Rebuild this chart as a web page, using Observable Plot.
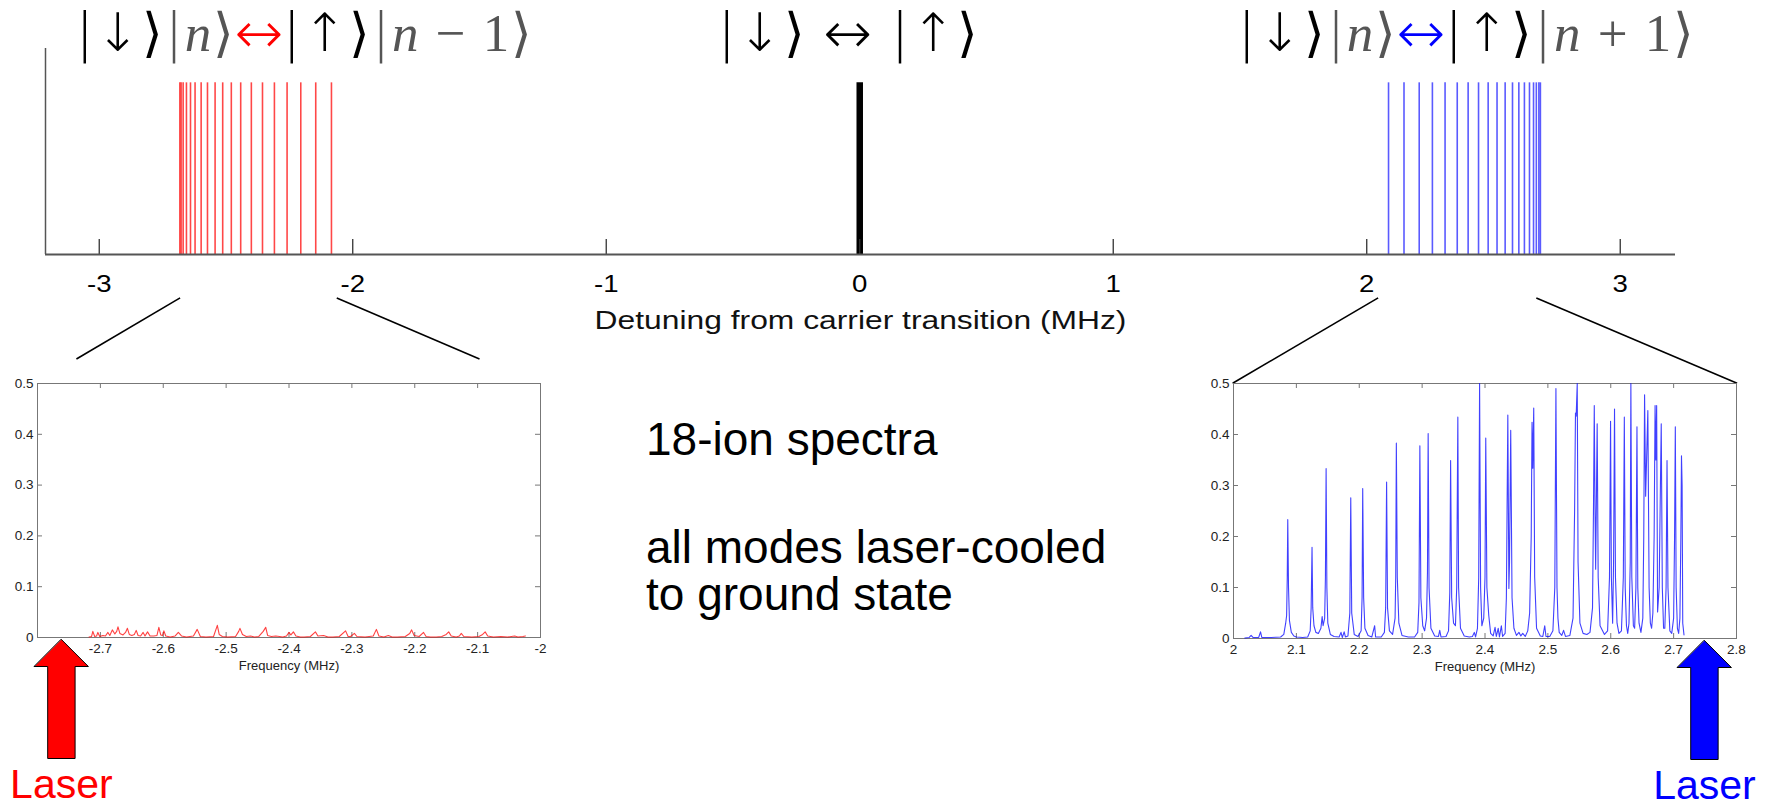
<!DOCTYPE html>
<html><head><meta charset="utf-8">
<script src="https://cdn.jsdelivr.net/npm/d3@7"></script>
<script src="https://cdn.jsdelivr.net/npm/@observablehq/plot@0.6"></script>
<style>
body{margin:0;background:#fff;}
#fig{position:relative;width:1768px;height:808px;overflow:hidden;font-family:"Liberation Sans",Arial,sans-serif;background:#fff;}
#fig svg{position:absolute;background:transparent;overflow:visible;}
.math{position:absolute;white-space:nowrap;font-family:"DejaVu Sans",sans-serif;font-weight:200;font-size:53px;line-height:53px;letter-spacing:2px;transform:translateX(-50%);color:#000;}
.g{color:#555}
.s{font-family:"Liberation Serif",serif;font-weight:400}
.ar{display:inline-block;transform:scale(1.1)}
.note{position:absolute;left:646px;font-family:"Liberation Sans",Arial,sans-serif;font-size:46px;white-space:nowrap;color:#000}
</style></head><body>
<div id="fig">
  <div class="math" style="left:305px;top:6px">|↓⟩<span class="g">|<i class="s">n</i>⟩</span><span class="ar" style="color:#ff0000">↔</span>|↑⟩<span class="g">|<i class="s">n</i><span class="s"> − 1</span>⟩</span></div>
  <div class="math" style="left:849px;top:6px">|↓⟩ <span class="ar">↔</span> |↑⟩</div>
  <div class="math" style="left:1467px;top:6px">|↓⟩<span class="g">|<i class="s">n</i>⟩</span><span class="ar" style="color:#0000ff">↔</span>|↑⟩<span class="g">|<i class="s">n</i><span class="s"> + 1</span>⟩</span></div>
  <div class="note" style="top:416px;line-height:46px">18-ion spectra</div>
  <div class="note" style="top:524px;line-height:47px">all modes laser-cooled<br>to ground state</div>
</div>
<script>
// ---------- data ----------
const mainTicks = [-3, -2, -1, 0, 1, 2, 3];
const carrier = [0];
const redModes = [-2.682, -2.677, -2.669, -2.656, -2.640, -2.622, -2.598, -2.573, -2.543, -2.513, -2.479, -2.442, -2.400, -2.356, -2.309, -2.259, -2.205, -2.146, -2.084];
const blueModes = [2.086, 2.147, 2.207, 2.259, 2.309, 2.357, 2.400, 2.441, 2.479, 2.514, 2.546, 2.575, 2.600, 2.622, 2.642, 2.658, 2.669, 2.679, 2.685];
// zoom connector endpoints (MHz on the main axis; y in main-axis units)
const zoomFromX = [-2.681, -2.063, 2.045, 2.669];
const zoomToX = [-3.090, -1.500, 1.471, 3.461];
const zoomToY = [-0.609, -0.609, -0.750, -0.750];
const zoomFromY = -0.253;

const redTicks = [-2.7, -2.6, -2.5, -2.4, -2.3, -2.2, -2.1, -2];
const blueTicks = [2, 2.1, 2.2, 2.3, 2.4, 2.5, 2.6, 2.7, 2.8];
const probTicks = [0, 0.1, 0.2, 0.3, 0.4, 0.5];
const laserRed = -2.762;
const laserBlue = 2.749;

const redFreq = [-2.718,-2.714,-2.712,-2.709,-2.706,-2.704,-2.701,-2.696,-2.692,-2.688,-2.685,-2.681,-2.677,-2.674,-2.672,-2.669,-2.664,-2.660,-2.657,-2.654,-2.650,-2.646,-2.643,-2.640,-2.636,-2.632,-2.629,-2.625,-2.621,-2.615,-2.610,-2.607,-2.604,-2.601,-2.599,-2.596,-2.589,-2.581,-2.576,-2.571,-2.563,-2.552,-2.546,-2.541,-2.532,-2.520,-2.514,-2.511,-2.506,-2.498,-2.485,-2.480,-2.478,-2.474,-2.468,-2.461,-2.455,-2.448,-2.441,-2.437,-2.434,-2.428,-2.421,-2.415,-2.410,-2.404,-2.400,-2.397,-2.393,-2.389,-2.382,-2.376,-2.366,-2.358,-2.354,-2.345,-2.338,-2.330,-2.320,-2.310,-2.306,-2.302,-2.296,-2.292,-2.279,-2.266,-2.261,-2.257,-2.249,-2.242,-2.236,-2.228,-2.215,-2.208,-2.205,-2.201,-2.193,-2.186,-2.182,-2.175,-2.166,-2.157,-2.150,-2.146,-2.142,-2.134,-2.129,-2.126,-2.122,-2.109,-2.098,-2.092,-2.088,-2.084,-2.075,-2.063,-2.052,-2.041,-2.036,-2.028,-2.024];
const redProb = [0.001,0.002,0.012,0.002,0.003,0.010,0.002,0.004,0.003,0.010,0.004,0.015,0.007,0.012,0.021,0.008,0.005,0.010,0.018,0.006,0.004,0.006,0.014,0.004,0.003,0.010,0.003,0.011,0.003,0.003,0.004,0.020,0.005,0.004,0.013,0.003,0.001,0.003,0.010,0.003,0.001,0.003,0.016,0.002,0.001,0.002,0.024,0.006,0.002,0.001,0.002,0.012,0.018,0.006,0.002,0.003,0.001,0.002,0.012,0.020,0.004,0.002,0.003,0.002,0.001,0.003,0.010,0.005,0.011,0.003,0.001,0.001,0.002,0.011,0.003,0.004,0.001,0.001,0.002,0.013,0.002,0.002,0.008,0.002,0.001,0.003,0.016,0.003,0.001,0.004,0.001,0.001,0.002,0.008,0.015,0.004,0.002,0.010,0.002,0.001,0.001,0.002,0.006,0.011,0.003,0.001,0.003,0.008,0.002,0.001,0.002,0.006,0.011,0.003,0.001,0.002,0.001,0.003,0.001,0.002,0.003];

const blueFreq = [2.018,2.025,2.028,2.031,2.040,2.043,2.045,2.060,2.075,2.080,2.083,2.0845,2.0855,2.0863,2.0875,2.089,2.092,2.096,2.100,2.110,2.118,2.122,2.1235,2.1249,2.126,2.128,2.131,2.135,2.139,2.141,2.1425,2.145,2.1462,2.1473,2.1485,2.150,2.154,2.160,2.168,2.171,2.173,2.176,2.178,2.182,2.185,2.1865,2.188,2.192,2.198,2.203,2.2045,2.2055,2.207,2.209,2.214,2.220,2.2245,2.226,2.235,2.240,2.242,2.2435,2.245,2.248,2.253,2.257,2.258,2.259,2.2605,2.263,2.268,2.278,2.288,2.293,2.295,2.2964,2.298,2.301,2.304,2.307,2.3085,2.3096,2.311,2.314,2.320,2.326,2.328,2.330,2.338,2.342,2.344,2.3453,2.347,2.350,2.353,2.355,2.3568,2.358,2.361,2.367,2.375,2.380,2.383,2.385,2.388,2.390,2.3914,2.393,2.395,2.398,2.400,2.4012,2.403,2.406,2.409,2.413,2.416,2.418,2.421,2.423,2.426,2.428,2.432,2.434,2.4363,2.438,2.439,2.4409,2.443,2.446,2.450,2.454,2.457,2.460,2.464,2.468,2.471,2.4735,2.4748,2.476,2.4775,2.479,2.482,2.488,2.492,2.495,2.497,2.503,2.508,2.511,2.5128,2.5145,2.516,2.518,2.522,2.525,2.528,2.535,2.540,2.5425,2.5439,2.545,2.5467,2.548,2.551,2.556,2.562,2.567,2.571,2.5725,2.5738,2.575,2.576,2.577,2.5784,2.580,2.583,2.590,2.595,2.598,2.5997,2.601,2.603,2.6045,2.606,2.6075,2.610,2.613,2.617,2.620,2.6216,2.623,2.625,2.627,2.629,2.631,2.632,2.6335,2.636,2.638,2.640,2.6417,2.643,2.645,2.648,2.651,2.6525,2.6538,2.6555,2.657,2.659,2.661,2.663,2.665,2.667,2.669,2.6705,2.6717,2.673,2.6745,2.677,2.679,2.6803,2.682,2.684,2.686,2.688,2.6895,2.691,2.694,2.697,2.700,2.7015,2.7027,2.704,2.706,2.708,2.710,2.7115,2.7125,2.7135,2.7145,2.7165];
const blueProb = [0.001,0.002,0.006,0.002,0.002,0.013,0.002,0.002,0.003,0.008,0.030,0.045,0.120,0.233,0.100,0.035,0.012,0.005,0.003,0.002,0.003,0.015,0.060,0.179,0.060,0.025,0.012,0.010,0.020,0.043,0.025,0.040,0.120,0.333,0.100,0.030,0.008,0.004,0.003,0.012,0.002,0.013,0.003,0.005,0.050,0.276,0.050,0.008,0.004,0.015,0.080,0.294,0.080,0.020,0.006,0.003,0.025,0.003,0.003,0.012,0.060,0.307,0.060,0.015,0.008,0.040,0.120,0.383,0.120,0.030,0.006,0.003,0.003,0.012,0.070,0.378,0.080,0.025,0.015,0.040,0.130,0.402,0.100,0.020,0.005,0.004,0.016,0.003,0.004,0.015,0.090,0.349,0.080,0.030,0.025,0.100,0.434,0.100,0.020,0.005,0.003,0.004,0.012,0.003,0.020,0.120,0.500,0.100,0.025,0.040,0.120,0.393,0.100,0.045,0.010,0.005,0.022,0.004,0.020,0.003,0.025,0.004,0.010,0.080,0.438,0.098,0.150,0.408,0.080,0.020,0.006,0.012,0.005,0.010,0.004,0.015,0.050,0.200,0.424,0.334,0.452,0.120,0.020,0.005,0.004,0.025,0.004,0.004,0.015,0.100,0.490,0.100,0.040,0.012,0.006,0.016,0.004,0.006,0.040,0.250,0.442,0.436,0.500,0.150,0.030,0.010,0.008,0.012,0.060,0.250,0.457,0.250,0.136,0.250,0.421,0.120,0.025,0.008,0.015,0.120,0.426,0.120,0.030,0.150,0.450,0.120,0.030,0.010,0.015,0.120,0.434,0.100,0.025,0.010,0.030,0.150,0.500,0.120,0.025,0.020,0.100,0.415,0.100,0.030,0.012,0.040,0.200,0.478,0.279,0.350,0.447,0.100,0.030,0.020,0.050,0.200,0.457,0.350,0.457,0.052,0.100,0.300,0.421,0.100,0.020,0.020,0.100,0.349,0.100,0.015,0.010,0.040,0.200,0.415,0.100,0.020,0.010,0.040,0.200,0.358,0.300,0.030,0.007];

// ---------- helpers ----------
const fig = document.getElementById("fig");
function place(svg, left, top) {
  svg.style.left = left + "px";
  svg.style.top = top + "px";
  fig.appendChild(svg);
  return svg;
}
const blockArrow = {
  draw(context, l) {
    const hw = 27, sw = 13.7, hh = 27;
    context.moveTo(0, -l);
    context.lineTo(hw, -l + hh);
    context.lineTo(sw, -l + hh);
    context.lineTo(sw, 0);
    context.lineTo(-sw, 0);
    context.lineTo(-sw, -l + hh);
    context.lineTo(-hw, -l + hh);
    context.closePath();
  }
};

// ---------- main chart ----------
const links = zoomFromX.map((x, i) => ({x1: x, y1: zoomFromY, x2: zoomToX[i], y2: zoomToY[i]}));
const main = Plot.plot({
  width: 1768, height: 400,
  marginLeft: 45, marginRight: 93, marginTop: 48, marginBottom: 146,
  style: {background: "transparent", fontFamily: "'Liberation Sans', Arial, sans-serif", overflow: "visible"},
  x: {domain: [-3.212, 3.218], axis: null},
  y: {domain: [0, 1.2], axis: null},
  marks: [
    Plot.ruleX(redModes, {y1: 0, y2: 1, stroke: "#ff0000", strokeOpacity: 0.72, strokeWidth: 1.6}),
    Plot.ruleX(blueModes, {y1: 0, y2: 1, stroke: "#1a1aff", strokeOpacity: 0.72, strokeWidth: 1.6}),
    Plot.ruleX(carrier, {y1: 0, y2: 1, stroke: "#000", strokeWidth: 6.5}),
    Plot.ruleX(mainTicks, {y1: 1.2, y2: 0, insetTop: 191, stroke: "#333", strokeWidth: 1.3}),
    Plot.ruleX([-3.212], {y1: 0, y2: 1.2, stroke: "#555", strokeWidth: 1.5}),
    Plot.ruleY([0], {stroke: "#555", strokeWidth: 2}),
    Plot.text(mainTicks, {x: d => d, frameAnchor: "bottom", dy: 30, text: d => String(d), fontSize: 23, lineAnchor: "middle", fill: "#000"}),
    Plot.text(["Detuning from carrier transition (MHz)"], {frameAnchor: "bottom", dy: 66, fontSize: 26.5, lineAnchor: "middle", fill: "#111"}),
    Plot.link(links, {x1: "x1", y1: "y1", x2: "x2", y2: "y2", stroke: "#000", strokeWidth: 1.6})
  ]
});
place(main, 0, 0);
main.querySelectorAll("text").forEach(t => {
  const b = t.getBBox();
  const cx = b.x + b.width / 2;
  const prev = t.getAttribute("transform") || "";
  t.setAttribute("transform", `${prev} translate(${cx},0) scale(1.2,1) translate(${-cx},0)`);
});

// ---------- small spectra ----------
function spectrum({freq, prob, domain, xTicks, tickMarks, color, opacity, laser, laserColor, left, width, mLeft, mRight, mBottom}) {
  const H = 448 - 23 - mBottom;
  const W = width - mLeft - mRight;
  const pts = freq.map((f, i) => ({f, p: prob[i]}));
  return place(Plot.plot({
    width, height: 448,
    marginLeft: mLeft, marginRight: mRight, marginTop: 23, marginBottom: mBottom,
    style: {background: "transparent", fontFamily: "'Liberation Sans', Arial, sans-serif", overflow: "visible"},
    x: {domain, axis: null},
    y: {domain: [0, 0.5], axis: null},
    marks: [
      Plot.ruleX(tickMarks, {y1: 0.5, y2: 0, insetTop: H - 5, stroke: "#777"}),
      Plot.ruleX(tickMarks, {y1: 0.5, y2: 0, insetBottom: H - 5, stroke: "#777"}),
      Plot.ruleY(probTicks, {x1: domain[0], x2: domain[1], insetRight: W - 5, stroke: "#777"}),
      Plot.ruleY(probTicks, {x1: domain[0], x2: domain[1], insetLeft: W - 5, stroke: "#777"}),
      Plot.frame({stroke: "#777", strokeWidth: 1}),
      Plot.line(pts, {x: "f", y: "p", stroke: color, strokeOpacity: opacity, strokeWidth: 1.1}),
      Plot.text(xTicks, {x: d => d, frameAnchor: "bottom", dy: 11, text: d => String(d), fontSize: 13.5, lineAnchor: "middle", fill: "#222"}),
      Plot.text(probTicks, {y: d => d, frameAnchor: "left", dx: -4, text: d => String(d), fontSize: 13.5, textAnchor: "end", fill: "#222"}),
      Plot.text(["Frequency (MHz)"], {frameAnchor: "bottom", dy: 28, fontSize: 13, lineAnchor: "middle", fill: "#222"}),
      Plot.vector([laser], {x: d => d, y: () => 0, dy: 2, length: 119, anchor: "end", shape: blockArrow, fill: laserColor, stroke: "#000", strokeWidth: 1}),
      Plot.text(["Laser"], {x: () => laser, y: () => 0, dy: 147.5, fontSize: 41, lineAnchor: "middle", fill: laserColor})
    ]
  }), left, 360);
}

spectrum({freq: redFreq, prob: redProb, domain: [-2.8, -2], xTicks: redTicks,
  tickMarks: [-2.7, -2.6, -2.5, -2.4, -2.3, -2.2, -2.1], color: "#ff0000", opacity: 0.75,
  laser: laserRed, laserColor: "#ff0000", left: 0, width: 560, mLeft: 37, mRight: 20, mBottom: 171});
spectrum({freq: blueFreq, prob: blueProb, domain: [2, 2.8], xTicks: blueTicks,
  tickMarks: [2.1, 2.2, 2.3, 2.4, 2.5, 2.6, 2.7], color: "#0000ff", opacity: 0.75,
  laser: laserBlue, laserColor: "#0000ff", left: 1200, width: 568, mLeft: 33, mRight: 32, mBottom: 170});
</script>
</body></html>
